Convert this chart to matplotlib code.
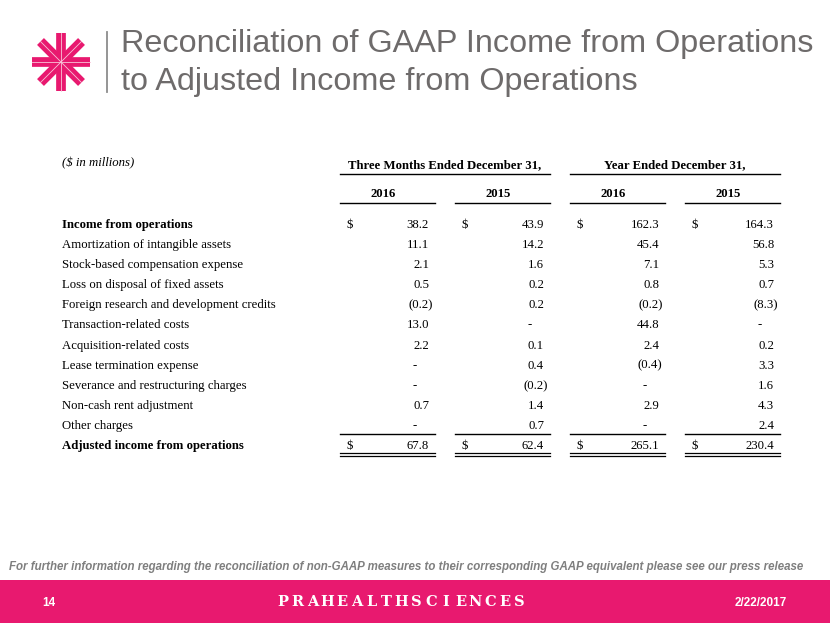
import matplotlib.pyplot as plt
import numpy as np

# Table data ($ in millions); None = "-"
line_items = [
    "Income from operations",
    "Amortization of intangible assets",
    "Stock-based compensation expense",
    "Loss on disposal of fixed assets",
    "Foreign research and development credits",
    "Transaction-related costs",
    "Acquisition-related costs",
    "Lease termination expense",
    "Severance and restructuring charges",
    "Non-cash rent adjustment",
    "Other charges",
    "Adjusted income from operations",
]
q4_2016 = [38.2, 11.1, 2.1, 0.5, -0.2, 13.0, 2.2, None, None, 0.7, None, 67.8]
q4_2015 = [43.9, 14.2, 1.6, 0.2, 0.2, None, 0.1, 0.4, -0.2, 1.4, 0.7, 62.4]
fy_2016 = [162.3, 45.4, 7.1, 0.8, -0.2, 44.8, 2.4, -0.4, None, 2.9, None, 265.1]
fy_2015 = [164.3, 56.8, 5.3, 0.7, -8.3, None, 0.2, 3.3, 1.6, 4.3, 2.4, 230.4]
columns = [q4_2016, q4_2015, fy_2016, fy_2015]
year_labels = ["2016", "2015", "2016", "2015"]
period_labels = ["Three Months Ended December 31,", "Year Ended December 31,"]

PINK = "#e8196f"
GRAY = "#6e6b6b"
SERIF = "Liberation Serif"
SANS = "Liberation Sans"

fig = plt.figure(figsize=(8.3, 6.23), dpi=100)
ax = fig.add_axes([0, 0, 1, 1])
ax.set_xlim(0, 830)
ax.set_ylim(623, 0)
ax.axis("off")

# logo: 4 thick bars -> 8 arms
cx, cy, r = 61, 62, 29
for ang in [0, 45, 90, 135]:
    a = np.deg2rad(ang)
    dx, dy = r * np.cos(a), r * np.sin(a)
    ax.plot([cx - dx, cx + dx], [cy - dy, cy + dy], color=PINK, lw=7,
            solid_capstyle="butt")
for ang in [0, 45, 90, 135]:
    a = np.deg2rad(ang)
    dx, dy = r * np.cos(a), r * np.sin(a)
    ax.plot([cx - dx, cx + dx], [cy - dy, cy + dy], color="#f8c3d8", lw=0.6)

ax.plot([107, 107], [32, 92], color="#8c8c8c", lw=1.3)

# title
ax.text(121, 52, "Reconciliation of GAAP Income from Operations", fontsize=23.3,
        family=SANS, color=GRAY, va="baseline", ha="left")
ax.text(121, 90, "to Adjusted Income from Operations", fontsize=23.3,
        family=SANS, color=GRAY, va="baseline", ha="left")

# table layout
col_start = [340, 455, 570, 685]
col_end = [435, 550, 665, 780]
row_y = [225 + 20.1 * i for i in range(len(line_items))]
fs = 9.2

ax.text(62, 163, "($ in millions)", fontsize=fs, family=SERIF, style="italic",
        va="center", ha="left")

for k, lab in enumerate(period_labels):
    x0, x1 = col_start[2 * k], col_end[2 * k + 1]
    ax.text((x0 + x1) / 2, 165, lab, fontsize=fs, family=SERIF, weight="bold",
            va="center", ha="center")
    ax.plot([x0, x1], [174, 174], color="black", lw=1)

for j, yl in enumerate(year_labels):
    x0, x1 = col_start[j], col_end[j]
    ax.text((x0 + x1) / 2 - 4, 194, yl, fontsize=fs, family=SERIF,
            weight="bold", va="center", ha="center")
    ax.plot([x0, x1], [203, 203], color="black", lw=1)

n = len(line_items)
for i, item in enumerate(line_items):
    bold = i in (0, n - 1)
    ax.text(62, row_y[i], item, fontsize=fs, family=SERIF,
            weight="bold" if bold else "normal", va="center", ha="left")
    for j, col in enumerate(columns):
        v = col[i]
        xr = col_end[j] - 6
        if bold:
            ax.text(col_start[j] + 6, row_y[i], "$", fontsize=fs, family=SERIF,
                    va="center", ha="left")
        if v is None:
            ax.text(col_end[j] - 20, row_y[i], "-", fontsize=fs, family=SERIF,
                    va="center", ha="center")
        elif v < 0:
            # closing parenthesis hangs past the number column
            ax.text(xr + 3.5, row_y[i], "(%.1f)" % -v, fontsize=fs, family=SERIF,
                    va="center", ha="right")
        else:
            ax.text(xr, row_y[i], "%.1f" % v, fontsize=fs, family=SERIF,
                    va="center", ha="right")

# total rules
for j in range(4):
    x0, x1 = col_start[j], col_end[j]
    ax.plot([x0, x1], [434, 434], color="black", lw=1)
    ax.plot([x0, x1], [452.5, 452.5], color="black", lw=0.9)
    ax.plot([x0, x1], [455.5, 455.5], color="black", lw=0.9)

# footnote
ax.text(406, 567, "For further information regarding the reconciliation of non-GAAP "
        "measures to their corresponding GAAP equivalent please see our press release",
        fontsize=8.3, family=SANS, style="italic", weight="bold", color="#7f7f7f",
        va="center", ha="center")

# footer band
ax.add_patch(plt.Rectangle((0, 580), 830, 43, color=PINK, lw=0))
ax.text(42, 603, "14", fontsize=8.5, family=SANS, weight="bold", color="white",
        va="center", ha="left")
ax.text(787, 603, "2/22/2017", fontsize=8.5, family=SANS, weight="bold",
        color="white", va="center", ha="right")
brand = "PRAHEALTHSCIENCES"
for k, ch in enumerate(brand):
    ax.text(283 + k * 14.8, 602, ch, fontsize=10.5, family="DejaVu Serif",
            weight="bold", color="white", va="center", ha="center")

fig.savefig("out.png", dpi=100)
